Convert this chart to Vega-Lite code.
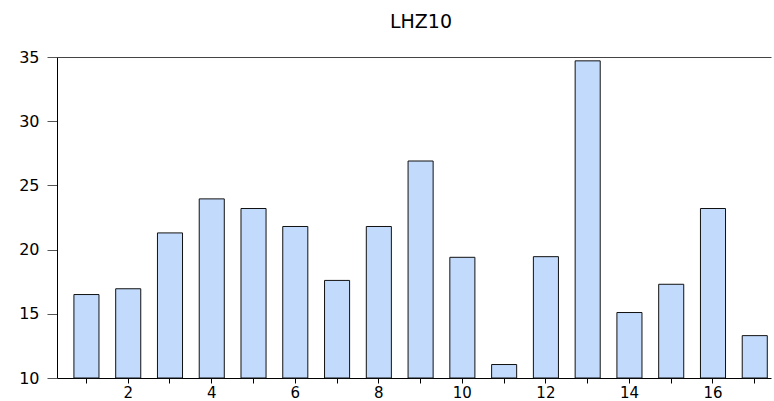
{
  "$schema": "https://vega.github.io/schema/vega-lite/v6.json",
  "autosize": "none",
  "width": 714,
  "height": 321,
  "padding": {"left": 57, "top": 57, "right": 3, "bottom": 23},
  "background": "white",
  "config": {"view": {"stroke": null}},
  "title": {"text": "LHZ10", "font": "DejaVu Sans", "fontSize": 19, "fontWeight": "normal", "color": "black", "anchor": "middle", "frame": "group", "baseline": "alphabetic", "offset": 2, "dx": 7},
  "data": {"values": [
    {"obs": 1, "value": 16.5},
    {"obs": 2, "value": 16.95},
    {"obs": 3, "value": 21.3},
    {"obs": 4, "value": 23.95},
    {"obs": 5, "value": 23.2},
    {"obs": 6, "value": 21.8},
    {"obs": 7, "value": 17.6},
    {"obs": 8, "value": 21.8},
    {"obs": 9, "value": 26.9},
    {"obs": 10, "value": 19.4},
    {"obs": 11, "value": 11.05},
    {"obs": 12, "value": 19.45},
    {"obs": 13, "value": 34.7},
    {"obs": 14, "value": 15.1},
    {"obs": 15, "value": 17.3},
    {"obs": 16, "value": 23.2},
    {"obs": 17, "value": 13.3}
  ]},
  "mark": {"type": "bar", "fill": "#C2DBFD", "stroke": "#111111", "strokeWidth": 1},
  "encoding": {
    "x": {
      "field": "obs", "type": "ordinal",
      "scale": {"paddingInner": 0.4, "paddingOuter": 0.247, "align": 0.82},
      "axis": {
        "title": null, "labelAngle": 0, "domainColor": "black", "tickColor": "black",
        "tickSize": 5, "labelPadding": 2, "labelFont": "DejaVu Sans", "labelFontSize": 15,
        "labelColor": "black",
        "labelExpr": "datum.value % 2 == 0 ? datum.label : ''"
      }
    },
    "y": {
      "field": "value", "type": "quantitative",
      "scale": {"domain": [10, 35], "zero": false, "nice": false},
      "axis": {
        "title": null, "values": [10, 15, 20, 25, 30, 35], "domainColor": "black",
        "tickColor": "#555555", "tickSize": 10, "labelPadding": 8,
        "labelFont": "DejaVu Sans", "labelFontSize": 16, "labelColor": "black",
        "grid": true, "gridColor": "#444444",
        "gridOpacity": {"condition": {"test": "datum.value == 35", "value": 1}, "value": 0}
      }
    },
    "y2": {"datum": 10}
  }
}
